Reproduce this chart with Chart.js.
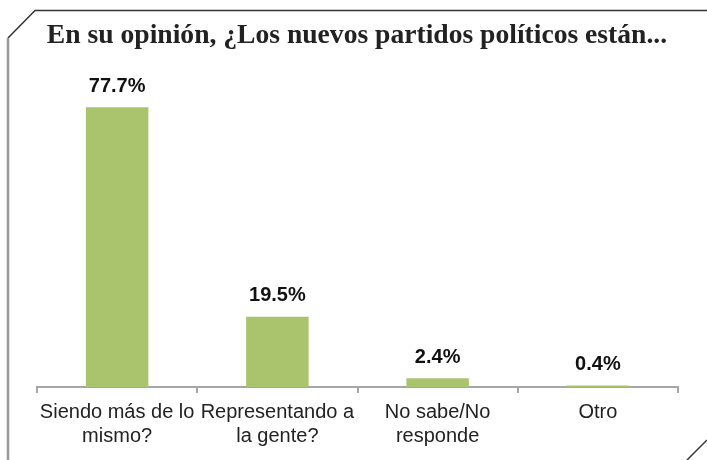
<!DOCTYPE html>
<html>
<head>
<meta charset="utf-8">
<script src="https://cdn.jsdelivr.net/npm/chart.js@4/dist/chart.umd.min.js"></script>
<style>
  html, body { margin: 0; padding: 0; background: #fff; }
  #wrap { position: relative; width: 707px; height: 460px; }
</style>
</head>
<body>
<div id="wrap"><canvas id="chart" width="707" height="460"></canvas></div>
<script>
// --- Données ---
const chartTitle = "En su opinión, ¿Los nuevos partidos políticos están...";
const categories = [
  ["Siendo más de lo", "mismo?"],
  ["Representando a", "la gente?"],
  ["No sabe/No", "responde"],
  ["Otro"],
];
const values = [77.7, 19.5, 2.4, 0.4];
const valueLabels = ["77.7%", "19.5%", "2.4%", "0.4%"];

// --- Cadre + titre ---
const framePlugin = {
  id: "frame",
  beforeDraw(chart) {
    const ctx = chart.ctx;
    ctx.save();
    ctx.strokeStyle = "#333";
    ctx.lineWidth = 1.5;
    ctx.beginPath();
    ctx.moveTo(707, 10.5);
    ctx.lineTo(35, 10.5);
    ctx.lineTo(8, 38);
    ctx.stroke();
    ctx.beginPath();
    ctx.moveTo(707, 440);
    ctx.lineTo(687, 460);
    ctx.stroke();
    ctx.strokeStyle = "#999";
    ctx.lineWidth = 2.5;
    ctx.beginPath();
    ctx.moveTo(8, 38);
    ctx.lineTo(8, 460);
    ctx.stroke();

    ctx.fillStyle = "#222";
    ctx.font = "bold 27.6px 'Liberation Serif', serif";
    ctx.textAlign = "center";
    ctx.textBaseline = "alphabetic";
    ctx.fillText(chartTitle, 357, 43);
    ctx.restore();
  },
};

// --- Étiquettes au-dessus des barres ---
const valueLabelPlugin = {
  id: "valueLabels",
  afterDatasetsDraw(chart) {
    const ctx = chart.ctx;
    const meta = chart.getDatasetMeta(0);
    ctx.save();
    ctx.fillStyle = "#111";
    ctx.font = "bold 20px 'Liberation Sans', Arial, sans-serif";
    ctx.textAlign = "center";
    ctx.textBaseline = "middle";
    meta.data.forEach((bar, i) => {
      ctx.fillText(valueLabels[i], bar.x, bar.y - 21);
    });
    ctx.restore();
  },
};

new Chart(document.getElementById("chart"), {
  type: "bar",
  data: {
    labels: categories,
    datasets: [{
      data: values,
      backgroundColor: "#aac46e",
      categoryPercentage: 1,
      barPercentage: 0.39,
    }],
  },
  options: {
    responsive: false,
    animation: false,
    layout: { padding: { left: 37, right: 29, top: 99, bottom: 0 } },
    plugins: {
      legend: { display: false },
      tooltip: { enabled: false },
      title: { display: false },
    },
    scales: {
      x: {
        offset: true,
        afterFit(scale) { scale.height = 73; },
        grid: {
          offset: true,
          drawOnChartArea: false,
          drawTicks: true,
          tickLength: 6,
          color: "#a6a6a6",
          lineWidth: 2,
        },
        border: { color: "#a6a6a6", width: 2 },
        ticks: {
          color: "#222",
          padding: 8,
          maxRotation: 0,
          autoSkip: false,
          font: { family: "'Liberation Sans', Arial, sans-serif", size: 20, lineHeight: 1.18 },
        },
      },
      y: {
        display: false,
        min: 0,
        max: 80,
      },
    },
  },
  plugins: [framePlugin, valueLabelPlugin],
});
</script>
</body>
</html>
